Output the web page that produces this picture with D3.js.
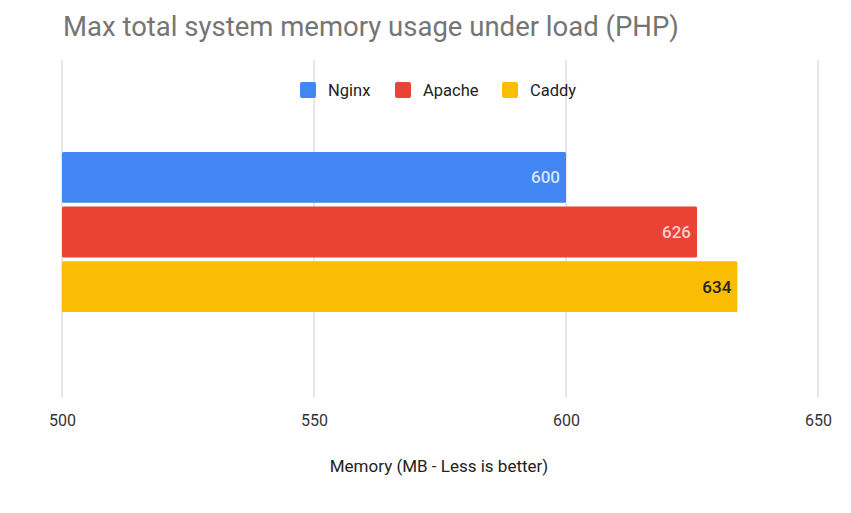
<!DOCTYPE html>
<html lang="en">
<head>
<script src="https://d3js.org/d3.v7.min.js"></script>
<style>
body { margin: 0; background: #fff; }
text { font-family: Roboto, "Liberation Sans", Arial, sans-serif; }
</style>
</head>
<body>
<svg width="851" height="513"></svg>
<script>
var series = ["Nginx", "Apache", "Caddy"];
var values = [600, 626, 634];
var colors = ["#4285f4", "#ea4335", "#fbbc04"];
var labelColors = ["#d6e4fc", "#f9d0cc", "#222222"];
var ticks = [500, 550, 600, 650];

var svg = d3.select("svg");

var x = d3.scaleLinear().domain([500, 650]).range([62, 818]);
var y = d3.scaleBand().domain(series).range([152, 312]).paddingInner(0.07);

svg.append("text")
  .attr("x", 63)
  .attr("y", 36)
  .attr("font-size", "27.5px")
  .attr("fill", "#757575")
  .text("Max total system memory usage under load (PHP)");

// gridlines
svg.append("g").selectAll("line")
  .data(ticks)
  .enter().append("line")
  .attr("x1", function(d) { return x(d); })
  .attr("x2", function(d) { return x(d); })
  .attr("y1", 60)
  .attr("y2", 398)
  .attr("stroke", "#d0d0d0")
  .attr("stroke-width", 1);

// bars
svg.append("g").selectAll("rect")
  .data(values)
  .enter().append("rect")
  .attr("x", x(500))
  .attr("y", function(d, i) { return y(series[i]); })
  .attr("width", function(d) { return x(d) - x(500); })
  .attr("height", y.bandwidth())
  .attr("rx", 1.5)
  .attr("fill", function(d, i) { return colors[i]; });

// value labels
svg.append("g").selectAll("text")
  .data(values)
  .enter().append("text")
  .attr("x", function(d) { return x(d) - 6; })
  .attr("y", function(d, i) { return y(series[i]) + y.bandwidth() / 2; })
  .attr("dy", "0.35em")
  .attr("text-anchor", "end")
  .attr("font-size", "17px")
  .attr("font-weight", 500)
  .attr("fill", function(d, i) { return labelColors[i]; })
  .text(function(d) { return d; });

// x axis
var axis = svg.append("g")
  .attr("transform", "translate(0,398)")
  .call(d3.axisBottom(x).tickValues(ticks).tickSize(0).tickPadding(17));
axis.select(".domain").remove();
axis.selectAll("text")
  .attr("font-size", "16px")
  .attr("fill", "#333")
  .style("font-family", "Roboto, 'Liberation Sans', Arial, sans-serif");

svg.append("text")
  .attr("x", 439)
  .attr("y", 472)
  .attr("text-anchor", "middle")
  .attr("font-size", "17px")
  .attr("fill", "#222")
  .text("Memory (MB - Less is better)");

// legend
var legendX = [300, 395, 502];
var lg = svg.append("g").selectAll("g")
  .data(series)
  .enter().append("g")
  .attr("transform", function(d, i) { return "translate(" + legendX[i] + ",82)"; });
lg.append("rect")
  .attr("width", 16)
  .attr("height", 16)
  .attr("rx", 2)
  .attr("fill", function(d, i) { return colors[i]; });
lg.append("text")
  .attr("x", 28)
  .attr("y", 8)
  .attr("dy", "0.35em")
  .attr("font-size", "16.5px")
  .attr("fill", "#222")
  .text(function(d) { return d; });
</script>
</body>
</html>
